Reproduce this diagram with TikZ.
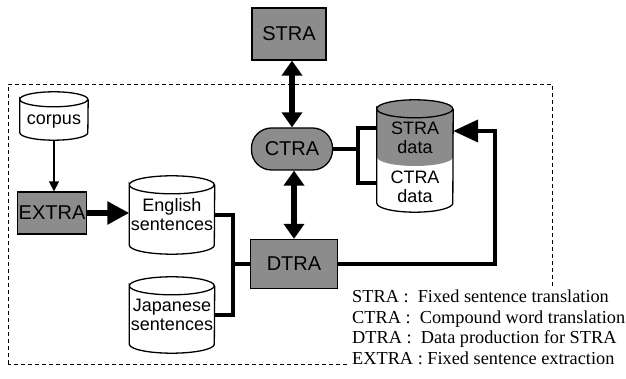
\documentclass[tikz,border=0pt]{standalone}
\usepackage{fontspec}
\setmainfont{Liberation Serif}
\setsansfont{Liberation Sans}
\usepackage{tikz}
\usetikzlibrary{arrows.meta}
\usetikzlibrary{positioning,calc}

\begin{document}
\begin{tikzpicture}[x=1pt,y=1pt]
    \tikzstyle{proc} = [
      rectangle,
      draw,
      line width=1.3pt,
      fill=black!45,
      inner sep=0pt,
      font=\sffamily\fontsize{20}{22}\selectfont,
    ]
    \tikzstyle{store} = [
      rectangle,
      align=center,
      inner sep=0pt,
      font=\sffamily\fontsize{18}{19}\selectfont,
    ]
    \tikzstyle{link} = [line width=4pt]
    \tikzstyle{both} = [
      line width=6pt,
      {Triangle[width=20pt,length=15pt]}-{Triangle[width=20pt,length=15pt]},
    ]

    % outline of a drum: node name, x radius, y radius
    \newcommand{\drum}[3]{
      \draw[line width=1.3pt] ([yshift=-#3pt]#1.north west)
        arc[start angle=180, end angle=-180, x radius=#2, y radius=#3]
        -- ([yshift=#3pt]#1.south west)
        arc[start angle=180, end angle=360, x radius=#2, y radius=#3]
        -- ([yshift=-#3pt]#1.north east);
    }

    \useasboundingbox (0,0) rectangle (626,379);

    % dashed frame
    \draw[dash pattern=on 4pt off 3pt, line width=0.9pt] (8,15) rectangle (552,295);

    \node[proc, minimum width=74pt, minimum height=52pt] (stra) at (289,345) {STRA};
    \node[proc, minimum width=81pt, minimum height=42pt, rounded corners=20pt] (ctra) at (292,230) {CTRA};
    \node[proc, minimum width=87pt, minimum height=49pt] (dtra) at (294,115) {DTRA};
    \node[proc, minimum width=69pt, minimum height=42pt] (extra) at (52,166) {EXTRA};

    \node[store, minimum width=68pt, minimum height=48pt, text height=22pt, text depth=4pt] (corpus) at (54,263) {corpus};
    \node[store, minimum width=85pt, minimum height=78pt] (english) at (172,164) {English\\sentences};
    \node[store, minimum width=85pt, minimum height=76pt] (japanese) at (172,64) {Japanese\\sentences};
    \node[store, minimum width=76pt, minimum height=112pt] (data) at (415,223) {};
    \drum{corpus}{34}{7.5}
    \drum{english}{42.5}{9}
    \drum{japanese}{42.5}{9}

    % shared store, upper half shaded
    \fill[black!45] (377,270) arc[start angle=180, end angle=0, x radius=38, y radius=9]
      -- (453,222) arc[start angle=0, end angle=-180, x radius=38, y radius=9] -- cycle;
    \drum{data}{38}{9}
    \node[store] (stradata) at (415,241) {STRA\\data};
    \node[store] (ctradata) at (415,192) {CTRA\\data};

    \coordinate (join) at ([xshift=-17pt]dtra.west);
    \coordinate (brk) at ([xshift=25pt]ctra.east);

    \draw[both] (ctra.north) -- (ctra.north |- stra.south);
    \draw[both] (dtra.north) -- (dtra.north |- ctra.south);
    \draw[line width=1.5pt, -{Triangle[width=10pt,length=10pt]}] (corpus.south) -- (corpus.south |- extra.north);
    \draw[line width=6pt, -{Triangle[width=22pt,length=22pt]}] (extra.east) -- (extra.east -| english.west);
    \draw[link] (english.east) -| (join) |- (japanese.east);
    \draw[link] (join) -- (dtra.west);
    \draw[link] (ctra.east) -- (brk);
    \draw[link] ([yshift=28pt]data.west) -| (brk) |- ([yshift=-27pt]data.west);
    \draw[link, -{Triangle[width=22pt,length=25pt]}] (dtra.east) -| ([xshift=42pt,yshift=25pt]data.east) -- ([yshift=25pt]data.east);

    \node[fill=white, anchor=north west, align=left, inner sep=2pt,
      font=\fontsize{18.3}{20.5}\selectfont] (legend) at (350,91)
      {STRA :\ \ Fixed sentence translation\\
       CTRA :\ \ Compound word translation\\
       DTRA :\ \ Data production for STRA\\
       EXTRA :\ Fixed sentence extraction};
  \end{tikzpicture}
\end{document}
